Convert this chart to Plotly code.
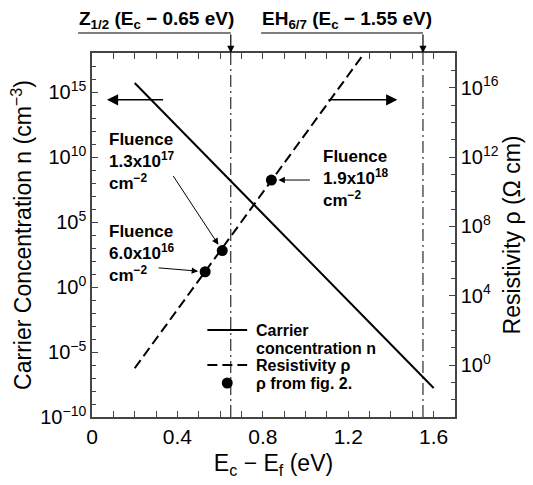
import math
import plotly.graph_objects as go

# ---- data ----
x_n = [0.2, 1.6]                 # Ec - Ef (eV)
n_vals = [4.9e15, 1.7e-8]        # carrier concentration (cm^-3)
x_rho = [0.2, 1.27]
rho_vals = [0.65, 8.0e17]        # resistivity (ohm cm)
x_pts = [0.53, 0.61, 0.84]
rho_pts = [2.4e5, 4.0e6, 4.7e10]
fluence_labels = ["6.0x10<sup>16</sup>", "1.3x10<sup>17</sup>", "1.9x10<sup>18</sup>"]
defect_levels = [0.65, 1.55]
defect_labels = ["Z<sub>1/2</sub> (E<sub>c</sub> − 0.65 eV)", "EH<sub>6/7</sub> (E<sub>c</sub> − 1.55 eV)"]
x_ticks = [0, 0.4, 0.8, 1.2, 1.6]
x_ticktext = ["0", "0.4", "0.8", "1.2", "1.6"]
yl_exp = [-10, -5, 0, 5, 10, 15]
yr_exp = [0, 4, 8, 12, 16]
legend_names = ["Carrier<br>concentration n", "Resistivity ρ", "ρ from fig. 2."]

FONT = "Liberation Sans, Arial, sans-serif"
W, H = 533, 485
L, R, T, B = 92, 76, 53, 68
XR = [0, 1.7]
PW, PH = W - L - R, H - B - T


def px2paper_x(px):
    return (px - L) / PW


def px2paper_y(py):
    return (H - B - py) / PH


SOLID = dict(color="black", width=2)
DASHED = dict(color="black", width=2, dash="10px,5px")

fig = go.Figure()
fig.add_trace(go.Scatter(x=x_n, y=n_vals, mode="lines", name=legend_names[0],
                         line=SOLID, yaxis="y", showlegend=False))
fig.add_trace(go.Scatter(x=x_rho, y=rho_vals, mode="lines", name=legend_names[1],
                         line=DASHED, yaxis="y2", showlegend=False))
fig.add_trace(go.Scatter(x=x_pts, y=rho_pts, mode="markers", name=legend_names[2],
                         marker=dict(color="black", size=11), yaxis="y2", showlegend=False))

# vertical defect level lines
for xv in defect_levels:
    fig.add_shape(type="line", xref="x", yref="paper", x0=xv, x1=xv, y0=0, y1=1,
                  line=dict(color="black", width=1, dash="12px,4px,2px,4px"))

annotations = []
# top labels with leader lines
text_left_px = [78, 262]
for xv, lab, tl in zip(defect_levels, defect_labels, text_left_px):
    xp = (xv - XR[0]) / (XR[1] - XR[0])
    fig.add_shape(type="line", xref="paper", yref="paper", x0=px2paper_x(tl), x1=xp,
                  y0=px2paper_y(33), y1=px2paper_y(33), line=dict(color="black", width=1.2))
    annotations.append(dict(xref="paper", yref="paper", x=px2paper_x(tl - 1), y=px2paper_y(34),
                            xanchor="left", yanchor="bottom", showarrow=False,
                            text="<b>" + lab + "</b>", font=dict(size=19, family=FONT, color="black")))
    annotations.append(dict(xref="x", yref="paper", x=xv, y=1, ax=0, ay=-20, axref="pixel", ayref="pixel",
                            text="", showarrow=True, arrowhead=2, arrowsize=1.2, arrowwidth=1.2,
                            arrowcolor="black"))

# axis-direction arrows
annotations.append(dict(xref="x", yref="y", x=0.07, y=14.4, axref="x", ayref="y", ax=0.34, ay=14.4,
                        text="", showarrow=True, arrowhead=2, arrowsize=1.4, arrowwidth=1.6, arrowcolor="black"))
annotations.append(dict(xref="x", yref="y", x=1.43, y=14.4, axref="x", ayref="y", ax=1.1, ay=14.4,
                        text="", showarrow=True, arrowhead=2, arrowsize=1.4, arrowwidth=1.6, arrowcolor="black"))

# fluence labels
fl_pos = [(107, 253), (107, 161), (322, 178)]
arrow_off = [(-48, -4), (-50, -76), (40, 0)]
for xv, rv, lab, (tx, ty), (ax, ay) in zip(x_pts, rho_pts, fluence_labels, fl_pos, arrow_off):
    annotations.append(dict(xref="paper", yref="paper", x=px2paper_x(tx), y=px2paper_y(ty),
                            xanchor="left", yanchor="middle", align="left", showarrow=False,
                            text="<b>Fluence<br>" + lab + "<br>cm<sup>−2</sup></b>",
                            font=dict(size=17, family=FONT, color="black")))
    annotations.append(dict(xref="x", yref="y2", x=xv, y=math.log10(rv), ax=ax, ay=ay,
                            axref="pixel", ayref="pixel", text="", showarrow=True, arrowhead=2,
                            arrowsize=1.3, arrowwidth=1, standoff=7, arrowcolor="black"))

# legend (drawn by hand to match the compact layout)
leg_x0, leg_x1, leg_tx = 208, 248, 255
leg_rows = [330, 365, 383]
fig.add_shape(type="line", xref="paper", yref="paper", x0=px2paper_x(leg_x0), x1=px2paper_x(leg_x1),
              y0=px2paper_y(leg_rows[0]), y1=px2paper_y(leg_rows[0]), line=SOLID)
fig.add_shape(type="line", xref="paper", yref="paper", x0=px2paper_x(leg_x0), x1=px2paper_x(leg_x1),
              y0=px2paper_y(leg_rows[1]), y1=px2paper_y(leg_rows[1]), line=DASHED)
cx, cy, rr = (leg_x0 + leg_x1) / 2, leg_rows[2], 5.5
fig.add_shape(type="circle", xref="paper", yref="paper", x0=px2paper_x(cx - rr), x1=px2paper_x(cx + rr),
              y0=px2paper_y(cy + rr), y1=px2paper_y(cy - rr), fillcolor="black", line=dict(width=0))
leg_text_rows = [(legend_names[0].split("<br>")[0], 330), (legend_names[0].split("<br>")[1], 348),
                 (legend_names[1], 365), (legend_names[2], 383)]
for txt, yy in leg_text_rows:
    annotations.append(dict(xref="paper", yref="paper", x=px2paper_x(leg_tx), y=px2paper_y(yy),
                            xanchor="left", yanchor="middle", showarrow=False, text="<b>" + txt + "</b>",
                            font=dict(size=16, family=FONT, color="black")))

fig.update_layout(
    width=W, height=H, margin=dict(l=L, r=R, t=T, b=B),
    paper_bgcolor="white", plot_bgcolor="white",
    font=dict(family=FONT, color="black"),
    annotations=annotations,
    showlegend=False,
    xaxis=dict(range=XR, tickvals=x_ticks, ticktext=x_ticktext, ticks="inside", ticklen=6,
               tickcolor="#444", showline=True, linecolor="#444", linewidth=1.5, mirror="allticks",
               showgrid=False, zeroline=False, tickfont=dict(size=21),
               minor=dict(dtick=0.1, ticks="inside", ticklen=5, tickcolor="#444"),
               title=dict(text="E<sub>c</sub> − E<sub>f</sub> (eV)", font=dict(size=23), standoff=8)),
    yaxis=dict(type="log", range=[-10, 18], tickvals=[10.0 ** e for e in yl_exp],
               ticktext=["10<sup>%s</sup>" % (str(e).replace("-", "−")) for e in yl_exp],
               ticks="inside", ticklen=6, tickcolor="#444", showline=True, linecolor="#444", linewidth=1.5,
               showgrid=False, zeroline=False, tickfont=dict(size=20),
               minor=dict(tickvals=[10.0 ** e for e in range(-10, 19)], ticks="inside", ticklen=4,
                          tickcolor="#444"),
               title=dict(text="Carrier Concentration n (cm<sup>−3</sup>)", font=dict(size=23), standoff=2)),
    yaxis2=dict(type="log", range=[-3, 18], overlaying="y", side="right",
                tickvals=[10.0 ** e for e in yr_exp],
                ticktext=["10<sup>%d</sup>" % e for e in yr_exp],
                ticks="inside", ticklen=6, tickcolor="#444", showline=True, linecolor="#444", linewidth=1.5,
                showgrid=False, zeroline=False, tickfont=dict(size=20),
                minor=dict(tickvals=[10.0 ** e for e in range(-3, 19)], ticks="inside", ticklen=4,
                           tickcolor="#444"),
                title=dict(text="Resistivity ρ (Ω cm)", font=dict(size=23), standoff=6)),
)

fig.write_html("out.html")
